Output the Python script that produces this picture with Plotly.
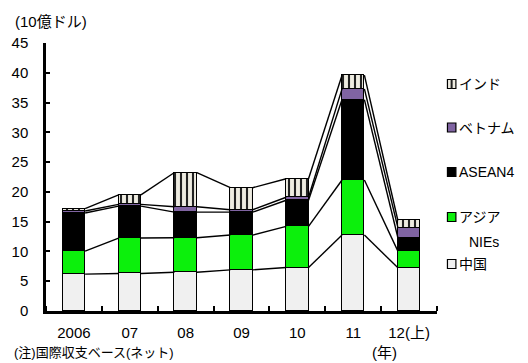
import plotly.graph_objects as go

# ---- data (10億ドル) ----
years = ["2006", "07", "08", "09", "10", "11", "12(上)"]
china = [6.2, 6.3, 6.5, 6.9, 7.3, 12.75, 7.25]
nies = [3.85, 5.95, 5.8, 5.85, 6.9, 9.25, 2.8]
asean4 = [6.4, 5.35, 4.3, 3.85, 4.4, 13.5, 2.25]
vietnam = [0.35, 0.3, 0.9, 0.4, 0.5, 1.8, 1.7]
india = [0.4, 1.6, 5.75, 3.7, 3.1, 2.3, 1.2]

series_names = ["中国", "アジアNIEs", "ASEAN4", "ベトナム", "インド"]
series_vals = [china, nies, asean4, vietnam, india]
series_colors = ["#F0F0F0", "#0CF00C", "#000000", "#8064A2", "#EEECE1"]

FONT = "Liberation Sans, Arial, Noto Sans CJK JP, sans-serif"
W, H = 528, 363
ML, MR, MT, MB = 44, 91, 43, 52
BAR_W = 0.4

xs = list(range(len(years)))
fig = go.Figure()

# stacked bars
for name, vals, col in zip(series_names, series_vals, series_colors):
    kw = {}
    if name == "インド":
        kw = dict(pattern=dict(shape="|", fgcolor="#222222", bgcolor=col, size=6, solidity=0.35, fillmode="replace"))
    fig.add_trace(go.Bar(
        x=xs, y=vals, name=name, width=BAR_W, showlegend=False,
        marker=dict(color=col, line=dict(color="black", width=1.3), **kw),
    ))

# connector lines between bar tops
cum = [0.0] * len(years)
for vals in series_vals:
    cum = [c + v for c, v in zip(cum, vals)]
    lx, ly = [], []
    for i in range(len(years) - 1):
        lx += [i + BAR_W / 2, i + 1 - BAR_W / 2, None]
        ly += [cum[i], cum[i + 1], None]
    fig.add_trace(go.Scatter(x=lx, y=ly, mode="lines", showlegend=False,
                             line=dict(color="black", width=1.4), hoverinfo="skip"))

# helpers: pixel -> paper
PW, PH = W - ML - MR, H - MT - MB
def px(xp):
    return (xp - ML) / PW
def py(yp):
    return (H - MB - yp) / PH

shapes = []
annotations = []

# manual legend
legend_items = [
    ("インド", "#EEECE1", 84),
    ("ベトナム", "#8064A2", 127.5),
    ("ASEAN4", "#000000", 172),
    ("アジア", "#0CF00C", 217),
    ("中国", "#F0F0F0", 264),
]
for label, col, yc in legend_items:
    shapes.append(dict(type="rect", xref="paper", yref="paper",
                       x0=px(447.5), x1=px(456), y0=py(yc + 4.5), y1=py(yc - 4.5),
                       fillcolor=col, line=dict(color="black", width=1.2)))
    if label == "インド":
        shapes.append(dict(type="line", xref="paper", yref="paper",
                           x0=px(451.7), x1=px(451.7), y0=py(yc + 4.5), y1=py(yc - 4.5),
                           line=dict(color="#222222", width=2)))
    annotations.append(dict(text=label, xref="paper", yref="paper", x=px(457.5), y=py(yc),
                            xanchor="left", yanchor="middle", showarrow=False,
                            font=dict(family=FONT, size=14, color="black")))
annotations.append(dict(text="NIEs", xref="paper", yref="paper", x=px(484), y=py(241.5),
                        xanchor="center", yanchor="middle", showarrow=False,
                        font=dict(family=FONT, size=14, color="black")))

# unit, axis title, note
annotations.append(dict(text="(10億ドル)", xref="paper", yref="paper", x=px(11), y=py(21.5),
                        xanchor="left", yanchor="middle", showarrow=False,
                        font=dict(family=FONT, size=15, color="black")))
annotations.append(dict(text="(年)", xref="paper", yref="paper", x=px(384), y=py(352),
                        xanchor="center", yanchor="middle", showarrow=False,
                        font=dict(family=FONT, size=15, color="black")))
annotations.append(dict(text="(注)国際収支ベース(ネット)", xref="paper", yref="paper", x=px(10), y=py(362),
                        xanchor="left", yanchor="bottom", showarrow=False,
                        font=dict(family=FONT, size=13, color="black")))

fig.update_layout(
    width=W, height=H,
    margin=dict(l=ML, r=MR, t=MT, b=MB, pad=0),
    paper_bgcolor="white", plot_bgcolor="white",
    barmode="stack", bargap=0,
    font=dict(family=FONT, size=15, color="black"),
    shapes=shapes, annotations=annotations,
    showlegend=False,
)
fig.update_xaxes(
    range=[-0.5, len(years) - 0.5], tickmode="array", tickvals=xs, ticktext=years,
    ticks="", showgrid=False, zeroline=False,
    showline=True, linecolor="black", linewidth=2.5,
    tickfont=dict(family=FONT, size=15), ticklabelstandoff=6,
    minor=dict(tick0=0.5, dtick=1, ticks="inside", ticklen=5, tickwidth=2, tickcolor="black", showgrid=False),
)
fig.update_yaxes(
    range=[0, 45], tickmode="array", tickvals=list(range(0, 46, 5)),
    ticks="inside", ticklen=4, tickwidth=2, tickcolor="black",
    showgrid=False, zeroline=False,
    showline=True, linecolor="black", linewidth=2.5,
    tickfont=dict(family=FONT, size=15), ticklabelstandoff=12,
)

fig.write_html("out.html")
